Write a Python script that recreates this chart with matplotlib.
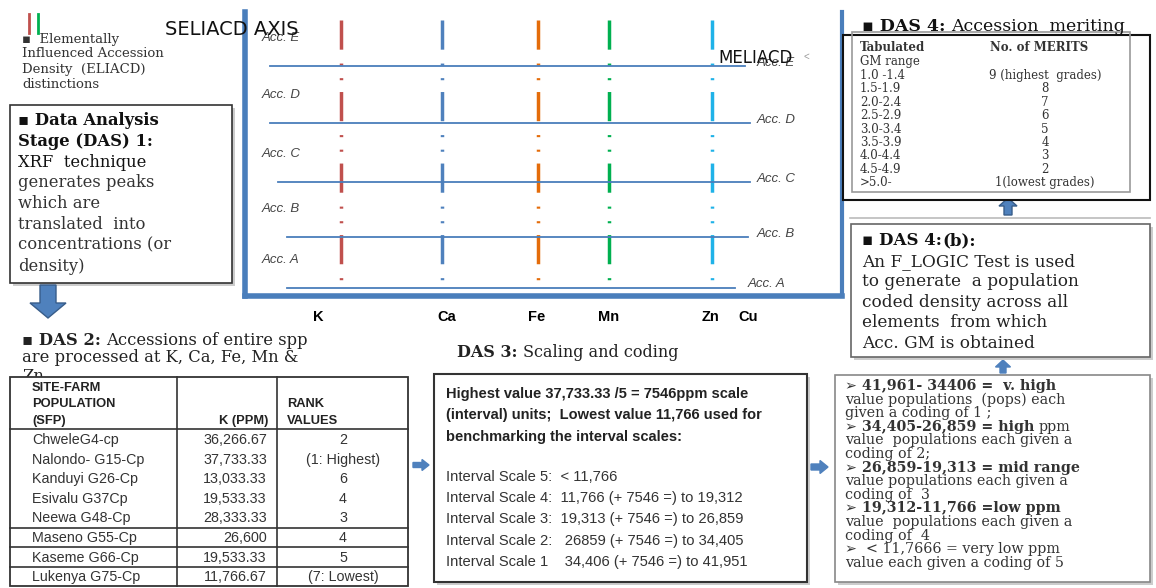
import matplotlib
matplotlib.use('Agg')
import matplotlib.pyplot as plt
import matplotlib.patches as mpatches

plt.rcParams['lines.scale_dashes'] = False

# ---- SELIACD axis data ----
elements = ['K', 'Ca', 'Fe', 'Mn', 'Zn', 'Cu']
element_label_pos = [0.73, 2.02, 2.92, 3.64, 4.65, 5.03]
line_pos = [0.96, 1.97, 2.93, 3.64, 4.67]          # K, Ca, Fe, Mn, Zn
line_colors = ['#c0504d', '#4f81bd', '#e46c0a', '#00b050', '#1fb2e8']

accessions = ['Acc. A', 'Acc. B', 'Acc. C', 'Acc. D', 'Acc. E']
acc_level = [0.16, 1.18, 2.28, 3.46, 4.6]
acc_start = [0.42, 0.42, 0.33, 0.25, 0.25]
acc_end = [4.9, 5.03, 5.05, 5.05, 5.0]

# ---- DAS 2 table ----
sites = ['ChweleG4-cp', 'Nalondo- G15-Cp', 'Kanduyi G26-Cp', 'Esivalu G37Cp',
         'Neewa G48-Cp', 'Maseno G55-Cp', 'Kaseme G66-Cp', 'Lukenya G75-Cp']
k_ppm = [36266.67, 37733.33, 13033.33, 19533.33, 28333.33, 26600, 19533.33, 11766.67]
ranks = ['2', '(1: Highest)', '6', '4', '3', '4', '5', '(7: Lowest)']

# ---- DAS 3 interval scales ----
scale_names = ['Interval Scale 5:', 'Interval Scale 4:', 'Interval Scale 3:',
               'Interval Scale 2:', 'Interval Scale 1']
scale_ranges = ['< 11,766', '11,766 (+ 7546 =) to 19,312', '19,313 (+ 7546 =) to 26,859',
                ' 26859 (+ 7546 =) to 34,405', '  34,406 (+ 7546 =) to 41,951']

# ---- DAS 4 merits ----
gm_range = ['1.0 -1.4', '1.5-1.9', '2.0-2.4', '2.5-2.9', '3.0-3.4',
            '3.5-3.9', '4.0-4.4', '4.5-4.9', '>5.0-']
merits = ['9 (highest  grades)', '8', '7', '6', '5', '4', '3', '2', '1(lowest grades)']

# coding text (text, bold)
coding_lines = [
    [('\u27a2 41,961- 34406 =  v. high', 'bold')],
    [('value populations  (pops) each', 'normal')],
    [('given a coding of 1 ;', 'normal')],
    [('\u27a2 34,405-26,859 = high', 'bold'), ('ppm', 'normal')],
    [('value  populations each given a', 'normal')],
    [('coding of 2;', 'normal')],
    [('\u27a2 26,859-19,313 = mid range', 'bold')],
    [('value populations each given a', 'normal')],
    [('coding of  3', 'normal')],
    [('\u27a2 19,312-11,766 =low ppm', 'bold')],
    [('value  populations each given a', 'normal')],
    [('coding of  4', 'normal')],
    [('\u27a2  < 11,7666 = very low ppm', 'normal')],
    [('value each given a coding of 5', 'normal')],
]

SERIF = ['DejaVu Serif', 'DejaVu Sans']
SANS = ['Liberation Sans', 'DejaVu Sans']

fig = plt.figure(figsize=(11.56, 5.88), dpi=100)
fig.patch.set_facecolor('white')

# chart panel
W, H = 1156, 588
ax = fig.add_axes([245 / W, 1 - 296 / H, 597 / W, 284 / H])
ax.set_xlim(0, 5.97)
ax.set_ylim(0, 5.68)
for x, c in zip(line_pos, line_colors):
    ax.plot([x, x], [5.52, 0.12], color=c, lw=2.5,
            linestyle=(0, (21, 10, 1.5, 9, 1.5, 8.5)), solid_capstyle='butt',
            dash_capstyle='butt', zorder=2)
for name, lv, x0, x1 in zip(accessions, acc_level, acc_start, acc_end):
    ax.plot([x0, x1], [lv, lv], color='#4a7ebb', lw=1.3, zorder=3)
    ax.text(0.17, lv + 0.56, name, style='italic', fontsize=9.5, color='#444',
            family=SANS, va='center', ha='left')
    xr = 5.03 if name == 'Acc. A' else 5.12
    ax.text(xr, lv + 0.06 if name != 'Acc. A' else lv + 0.08, name, style='italic',
            fontsize=9.5, color='#444', family=SANS, va='center', ha='left')
ax.set_xticks(element_label_pos, elements)
ax.set_yticks([])
ax.tick_params(axis='x', length=0, pad=10, labelsize=10.5)
for t in ax.get_xticklabels():
    t.set_fontweight('bold')
    t.set_family(SANS)
ax.spines['top'].set_visible(False)
ax.spines['left'].set_color('#4a7ebb')
ax.spines['left'].set_linewidth(4)
ax.spines['bottom'].set_color('#4a7ebb')
ax.spines['bottom'].set_linewidth(4)
ax.spines['right'].set_color('#4a7ebb')
ax.spines['right'].set_linewidth(3)

# overlay in pixel units
ov = fig.add_axes([0, 0, 1, 1])
ov.set_xlim(0, W)
ov.set_ylim(H, 0)
ov.axis('off')
ov.patch.set_alpha(0)


def parts_line(x, y, parts, size, color='#222', family=SERIF, gap=4):
    prev = None
    for s, w in parts:
        if prev is None:
            prev = ov.text(x, y, s, fontsize=size, fontweight=w, color=color,
                           family=family, va='baseline', ha='left', zorder=5)
        else:
            prev = ov.annotate(s, xy=(1, 0), xycoords=prev, xytext=(gap, 0),
                               textcoords='offset points', fontsize=size,
                               fontweight=w, color=color, family=family,
                               va='bottom', ha='left', zorder=5)
    return prev


def box(x0, y0, x1, y1, ec='#555', lw=1.2, shadow=True):
    if shadow:
        ov.add_patch(mpatches.Rectangle((x0 + 3, y0 + 3), x1 - x0, y1 - y0,
                                        fc='#cccccc', ec='none', zorder=1))
    ov.add_patch(mpatches.Rectangle((x0, y0), x1 - x0, y1 - y0, fc='white',
                                    ec=ec, lw=lw, zorder=1.5))


# top-left legend marks and text
ov.plot([29, 29], [14, 33], color='#c0504d', lw=2)
ov.plot([38, 38], [14, 33], color='#00b050', lw=2)
for y, s in zip([43, 57, 73, 88], ['\u25aa  Elementally', 'Influenced Accession',
                                   'Density  (ELIACD)', 'distinctions']):
    ov.text(22, y, s, fontsize=9.5, family=SERIF, color='#333', va='baseline')
ov.text(165, 35, 'SELIACD AXIS', fontsize=14, family=['DejaVu Sans'], color='#111',
        va='baseline', zorder=5)
ov.text(718, 63, 'MELIACD', fontsize=12, family=['DejaVu Sans'], color='#111',
        va='baseline', zorder=5)
ov.text(803, 60, '<', fontsize=7, family=SANS, color='#999', va='baseline')

# DAS 1 box
box(10, 105, 232, 283, ec='#333')
das1 = [[('\u25aa Data Analysis', 'bold')], [('Stage (DAS) 1:', 'bold')],
        [('XRF  technique', 'normal')], [('generates peaks', 'normal')],
        [('which are', 'normal')], [('translated  into', 'normal')],
        [('concentrations (or', 'normal')], [('density)', 'normal')]]
for i, p in enumerate(das1):
    col = '#111' if i < 3 else '#333'
    parts_line(18, 125 + i * 20.8, p, 11.8, color=col)

ov.arrow(48, 285, 0, 33, width=16, head_width=36, head_length=15,
         length_includes_head=True, fc='#4f81bd', ec='#385d8a', lw=1)

# DAS 2
parts_line(22, 345, [('\u25aa DAS 2:', 'bold'), ('Accessions of entire spp', 'normal')], 11.8)
parts_line(22, 362, [('are processed at K, Ca, Fe, Mn &', 'normal')], 11.8)
ov.text(22, 381, 'Zn', fontsize=11.8, family=SERIF, color='#222', va='baseline')

tx0, tx1, c1, c2 = 10, 408, 177, 277
ty0, thead, ty1 = 377, 429, 586
ov.add_patch(mpatches.Rectangle((tx0, ty0), tx1 - tx0, ty1 - ty0, fc='white',
                                ec='#333', lw=1.3, zorder=3))
for xx in (c1, c2):
    ov.plot([xx, xx], [ty0, ty1], color='#333', lw=1.2, zorder=4)
for yy in (thead, 528, 547, 567):
    ov.plot([tx0, tx1], [yy, yy], color='#333', lw=1.2, zorder=4)
hdr = dict(fontsize=9.3, fontweight='bold', family=SANS, color='#222', zorder=5, va='center')
ov.text(32, 388, 'SITE-FARM', **hdr)
ov.text(32, 404, 'POPULATION', **hdr)
ov.text(32, 421, '(SFP)', **hdr)
ov.text(268, 421, 'K (PPM)', ha='right', **hdr)
ov.text(287, 404, 'RANK', **hdr)
ov.text(287, 421, 'VALUES', **hdr)
row_y = [440, 460, 479, 499, 518, 538, 558, 577]
for y, s, v, r in zip(row_y, sites, k_ppm, ranks):
    vs = f'{v:,.2f}' if v % 1 else f'{v:,.0f}'
    ov.text(32, y, s, fontsize=10.3, family=SANS, color='#333', va='center', zorder=5)
    ov.text(267, y, vs, fontsize=10.3, family=SANS, color='#333', va='center', ha='right', zorder=5)
    ov.text(343, y, r, fontsize=10.3, family=SANS, color='#333', va='center', ha='center', zorder=5)

ov.arrow(413, 465, 16, 0, width=5, head_width=11, head_length=7,
         length_includes_head=True, fc='#4f81bd', ec='#4f81bd')

# DAS 3
parts_line(457, 357, [('DAS 3:', 'bold'), ('Scaling and coding', 'normal')], 11.5)
box(434, 374, 807, 582, ec='#333', lw=1.5)
bold_lines = ['Highest value 37,733.33 /5 = 7546ppm scale',
              '(interval) units;  Lowest value 11,766 used for',
              'benchmarking the interval scales:']
for i, s in enumerate(bold_lines):
    ov.text(446, 398 + i * 21.5, s, fontsize=10.5, fontweight='bold', family=SANS,
            color='#222', va='baseline', zorder=5)
for i, (n, r) in enumerate(zip(scale_names, scale_ranges)):
    ov.text(446, 481 + i * 21.2, n + '  ' + r, fontsize=10.6, family=SANS,
            color='#333', va='baseline', zorder=5)

ov.arrow(811, 467, 17, 0, width=6, head_width=13, head_length=8,
         length_includes_head=True, fc='#4f81bd', ec='#4f81bd')

# coding box
box(835, 375, 1150, 582, ec='#888')
for i, p in enumerate(coding_lines):
    parts_line(845, 390 + i * 13.6, p, 10.3, color='#333', gap=3)

ov.arrow(1003, 373, 0, -13, width=6, head_width=15, head_length=7,
         length_includes_head=True, fc='#4f81bd', ec='#4f81bd')

# DAS 4 (b)
ov.plot([850, 1150], [218, 218], color='#bbbbbb', lw=1.2)
box(851, 224, 1150, 357, ec='#666')
parts_line(862, 245, [('\u25aa DAS 4:', 'bold'), ('(b):', 'bold')], 12, color='#111', gap=0)
das4b = ['An F_LOGIC Test is used', 'to generate  a population',
         'coded density across all', 'elements  from which', 'Acc. GM is obtained']
for i, s in enumerate(das4b):
    ov.text(862, 266 + i * 20.4, s, fontsize=12.2, family=SERIF, color='#222',
            va='baseline', zorder=5)

ov.arrow(1008, 215, 0, -17, width=8, head_width=18, head_length=8,
         length_includes_head=True, fc='#4f81bd', ec='#385d8a')

# DAS 4 meriting table
parts_line(862, 31, [('\u25aa DAS 4:', 'bold'), ('Accession  meriting', 'normal')], 12.5, color='#111')
ov.add_patch(mpatches.Rectangle((843, 35), 1150 - 843, 165, fc='white', ec='#111', lw=1.5, zorder=1.5))
ov.add_patch(mpatches.Rectangle((852, 32), 1130 - 852, 160, fc='none', ec='#999', lw=1.2, zorder=1.6))
ov.text(860, 51, 'Tabulated', fontsize=8.5, fontweight='bold', family=SERIF, color='#333', va='baseline', zorder=5)
ov.text(990, 51, 'No. of MERITS', fontsize=8.5, fontweight='bold', family=SERIF, color='#333', va='baseline', zorder=5)
ov.text(860, 65, 'GM range', fontsize=8.5, family=SERIF, color='#333', va='baseline', zorder=5)
for i, (g, m) in enumerate(zip(gm_range, merits)):
    y = 79 + i * 13.4
    ov.text(860, y, g, fontsize=8.5, family=SERIF, color='#333', va='baseline', zorder=5)
    ov.text(1045, y, m, fontsize=8.5, family=SERIF, color='#333', va='baseline',
            ha='center', zorder=5)

fig.savefig('out.png', dpi=100, facecolor='white')
